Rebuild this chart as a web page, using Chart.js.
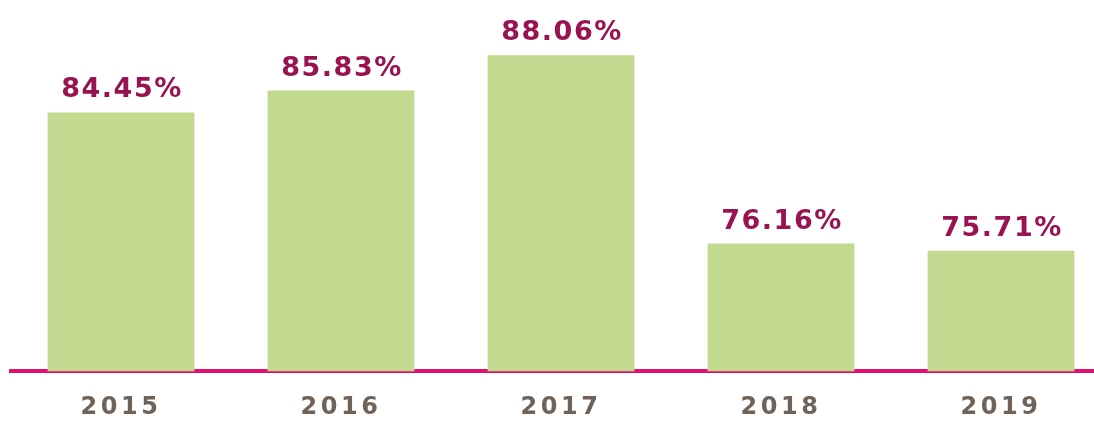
<!DOCTYPE html>
<html>
<head>
<meta charset="utf-8">
<title>Yearly rate</title>
<script src="https://cdn.jsdelivr.net/npm/chart.js@4.4.1/dist/chart.umd.min.js"></script>
<style>
  html, body { margin: 0; padding: 0; background: #fff; overflow: hidden; }
  #wrap { width: 1111px; height: 444px; }
</style>
</head>
<body>
<div id="wrap"><canvas id="rates" width="1111" height="444"></canvas></div>
<script>
const years = ["2015", "2016", "2017", "2018", "2019"];
const rates = [84.45, 85.83, 88.06, 76.16, 75.71];
const rateLabels = ["84.45%", "85.83%", "88.06%", "76.16%", "75.71%"];

const BAR_GREEN = "#c1da8f";
const VALUE_RED = "#9a1350";
const YEAR_GREY = "#6e6259";
const AXIS_PINK = "#e20f6f";

// letter spacing for the year ticks, then the value labels on top of each bar
const spacedText = {
  id: "spacedText",
  beforeDraw(chart) {
    chart.ctx.letterSpacing = "3.5px";
  },
  afterDraw(chart) {
    const ctx = chart.ctx;
    const meta = chart.getDatasetMeta(0);
    ctx.save();
    ctx.letterSpacing = "1.5px";
    ctx.font = "bold 27px 'DejaVu Sans', Verdana, sans-serif";
    ctx.fillStyle = VALUE_RED;
    ctx.textAlign = "center";
    ctx.textBaseline = "alphabetic";
    meta.data.forEach((bar, i) => {
      ctx.fillText(rateLabels[i], bar.x + 1, bar.y - 15);
    });
    ctx.restore();
  },
};

new Chart(document.getElementById("rates"), {
  type: "bar",
  data: {
    labels: years,
    datasets: [
      {
        data: rates,
        backgroundColor: BAR_GREEN,
        borderWidth: 0,
        barPercentage: 0.667,
        categoryPercentage: 1,
      },
    ],
  },
  options: {
    responsive: false,
    animation: false,
    layout: { padding: { left: 11, right: 0, top: 0, bottom: 0 } },
    plugins: {
      legend: { display: false },
      tooltip: { enabled: false },
    },
    scales: {
      x: {
        z: 1,
        grid: { display: false, drawTicks: false },
        border: { display: true, color: AXIS_PINK, width: 4 },
        ticks: {
          color: YEAR_GREY,
          padding: 22,
          font: { family: "'DejaVu Sans', Verdana, sans-serif", size: 24, weight: "bold" },
        },
      },
      y: {
        display: false,
        min: 68.1,
        max: 91.55,
      },
    },
  },
  plugins: [spacedText],
});
</script>
</body>
</html>
